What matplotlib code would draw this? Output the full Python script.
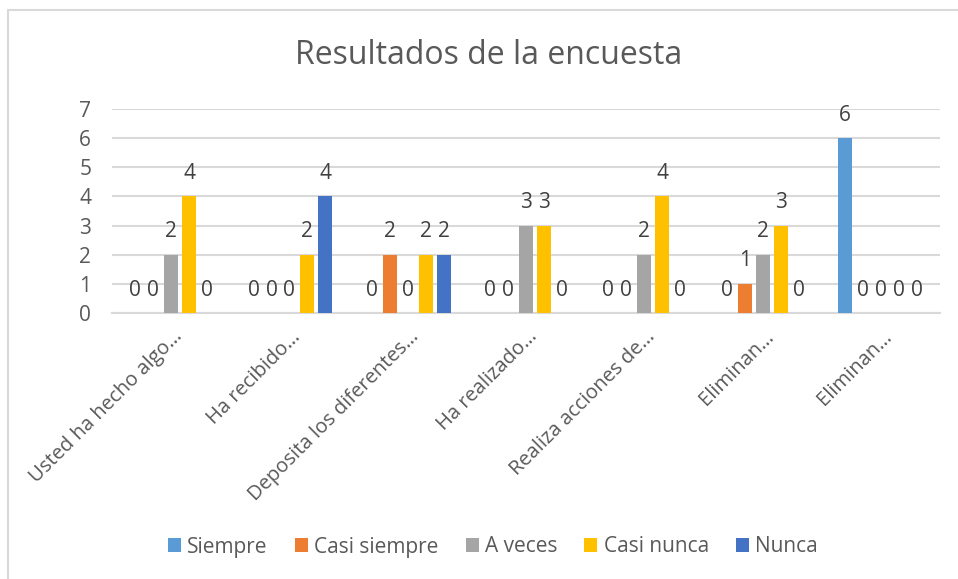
import matplotlib
matplotlib.use("Agg")
import matplotlib.pyplot as plt
import numpy as np
from matplotlib.patches import Rectangle

plt.rcParams["font.family"] = ["Open Sans", "DejaVu Sans"]

categories = [
    "Usted ha hecho algo…",
    "Ha recibido…",
    "Deposita los diferentes…",
    "Ha realizado…",
    "Realiza acciones de…",
    "Eliminan…",
    "Eliminan…",
]
series_names = ["Siempre", "Casi siempre", "A veces", "Casi nunca", "Nunca"]
siempre = [0, 0, 0, 0, 0, 0, 6]
casi_siempre = [0, 0, 2, 0, 0, 1, 0]
a_veces = [2, 0, 0, 3, 2, 2, 0]
casi_nunca = [4, 2, 2, 3, 4, 3, 0]
nunca = [0, 4, 2, 0, 0, 0, 0]
colors = ["#5B9BD5", "#ED7D31", "#A5A5A5", "#FFC000", "#4472C4"]
y_ticks = [0, 1, 2, 3, 4, 5, 6, 7]

W, H = 958, 579
fig = plt.figure(figsize=(W / 100, H / 100), dpi=100)
fig.patches.append(Rectangle((8 / W, -0.1), 1.2, 1 - 10 / H + 0.1,
                             transform=fig.transFigure, fill=False,
                             edgecolor="#D9D9D9", linewidth=1.5))

ax = fig.add_axes([112 / W, 1 - 313 / H, (940 - 112) / W, (313 - 109) / H])

text_color = "#595959"
x = np.arange(len(categories))
slot = 0.152
width = 0.118
all_series = [siempre, casi_siempre, a_veces, casi_nunca, nunca]
for i, (name, vals, col) in enumerate(zip(series_names, all_series, colors)):
    xs = x + (i - 2) * slot
    ax.bar(xs, vals, width=width, color=col, label=name, zorder=3)
    for xv, v in zip(xs, vals):
        ax.annotate(str(v), (xv, v), xytext=(0, 12.5), textcoords="offset points",
                    ha="center", va="baseline", fontsize=15, color="#404040")

ax.set_xlim(-0.5, len(categories) - 0.5)
ax.set_ylim(0, 7)
ax.set_yticks(y_ticks)
ax.tick_params(axis="y", length=0, labelsize=15, labelcolor=text_color, pad=15)
ax.tick_params(axis="x", length=0)
ax.grid(axis="y", color="#D9D9D9", linewidth=1.5, zorder=0)
for s in ["top", "right", "left"]:
    ax.spines[s].set_visible(False)
ax.spines["bottom"].set_color("#D9D9D9")
ax.spines["bottom"].set_linewidth(1.5)

ax.set_xticks(x)
ax.set_xticklabels([])
for xv, lab in zip(x, categories):
    ax.annotate(lab, (xv, 0), xytext=(6, -15), textcoords="offset points",
                rotation=45, rotation_mode="anchor", ha="right", va="center",
                fontsize=14.5, color=text_color, annotation_clip=False)

fig.text(489 / W, 1 - 55 / H, "Resultados de la encuesta", ha="center", va="center",
         fontsize=23, color=text_color)

leg = fig.legend(loc="center", bbox_to_anchor=(493 / W, 1 - 547 / H), ncol=5,
                 frameon=False, fontsize=15, handlelength=0.62, handleheight=0.62,
                 handletextpad=0.3, columnspacing=1.3)
for t in leg.get_texts():
    t.set_color(text_color)

fig.savefig("out.png", dpi=100)
